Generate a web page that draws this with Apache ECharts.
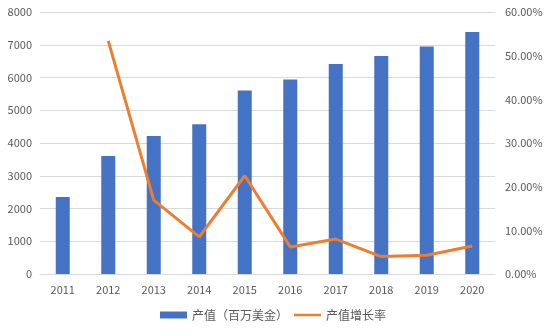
<!DOCTYPE html>
<html><head><meta charset="utf-8">
<script src="https://cdn.jsdelivr.net/npm/echarts@6/dist/echarts.min.js"></script>
<style>html,body{margin:0;padding:0;background:#fff}#c{width:546px;height:330px}</style>
</head><body><div id="c"></div>
<script>
const categories = ['2011','2012','2013','2014','2015','2016','2017','2018','2019','2020'];
const outputValue = [2350, 3600, 4210, 4570, 5600, 5940, 6410, 6660, 6950, 7390];
const growthRate = [null, 53.4, 16.9, 8.5, 22.5, 6.2, 8.0, 4.0, 4.3, 6.4];
const seriesNames = ['产值（百万美金）', '产值增长率'];

const chart = echarts.init(document.getElementById('c'));
const font = '"Noto Sans CJK SC", "Noto Sans", sans-serif';
chart.setOption({
  animation: false,
  textStyle: {fontFamily: font},
  grid: {left: 40, right: 51, top: 12, bottom: 56, containLabel: false},
  legend: {
    bottom: 4, left: 'center', itemGap: 6, itemWidth: 27, itemHeight: 7,
    textStyle: {color: '#595959', fontSize: 12, fontFamily: font},
    data: [
      {name: seriesNames[0], icon: 'rect'},
      {name: seriesNames[1], icon: 'path://M0,0 L0.01,0 L0,0 Z M0,2.3 L27,2.3 L27,4.7 L0,4.7 Z M0,7 L0.01,7 L0,7 Z', itemStyle: {color: '#ED7D31'}}
    ]
  },
  xAxis: {
    type: 'category', data: categories,
    axisLine: {show: true, lineStyle: {color: '#d9d9d9'}},
    axisTick: {show: false},
    axisLabel: {color: '#595959', fontSize: 11, margin: 10}
  },
  yAxis: [{
    type: 'value', min: 0, max: 8000, interval: 1000,
    axisLine: {show: false}, axisTick: {show: false},
    splitLine: {lineStyle: {color: '#d9d9d9'}},
    axisLabel: {color: '#595959', fontSize: 11, margin: 8, formatter: v => String(v)}
  }, {
    type: 'value', min: 0, max: 60, interval: 10,
    axisLine: {show: false}, axisTick: {show: false},
    splitLine: {show: false},
    axisLabel: {color: '#595959', fontSize: 11, margin: 10, formatter: v => v.toFixed(2) + '%'}
  }],
  series: [{
    name: seriesNames[0], type: 'bar', data: outputValue,
    barWidth: 14, itemStyle: {color: '#4472C4'}
  }, {
    name: seriesNames[1], type: 'line', yAxisIndex: 1, data: growthRate,
    showSymbol: false, symbol: 'none',
    lineStyle: {color: '#ED7D31', width: 3}, itemStyle: {color: '#ED7D31'}
  }]
});
</script></body></html>
